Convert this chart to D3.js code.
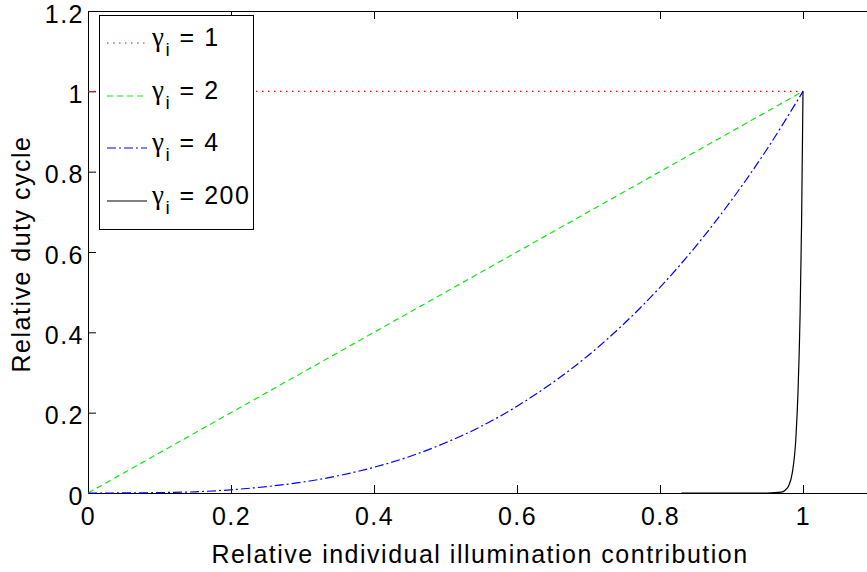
<!DOCTYPE html>
<html>
<head>
<meta charset="utf-8">
<script src="https://cdn.jsdelivr.net/npm/d3@7"></script>
<style>
  body { margin: 0; background: #fff; }
  svg { display: block; font-family: "Liberation Sans", Arial, sans-serif; }
  text { letter-spacing: 1.5px; }
</style>
</head>
<body>
<svg id="chart"></svg>
<script>
let width = 867
let height = 572

// axis ticks
let xTicks = [0, 0.2, 0.4, 0.6, 0.8, 1, 1.2]
let yTicks = [0, 0.2, 0.4, 0.6, 0.8, 1, 1.2]

// series
let gammaLabels = ['1', '2', '4', '200']

let gamma1X = [0, 1]
let gamma1Y = [1, 1]

let gamma2X = [0, 1]
let gamma2Y = [0, 1]

let gamma4X = [0, 0.05, 0.1, 0.15, 0.2, 0.25, 0.3, 0.35, 0.4, 0.45, 0.5, 0.55, 0.6, 0.65, 0.7, 0.75, 0.8, 0.85, 0.9, 0.95, 1]
let gamma4Y = [0, 0.0001, 0.001, 0.003, 0.008, 0.016, 0.027, 0.043, 0.064, 0.091, 0.125, 0.166, 0.216, 0.275, 0.343, 0.422, 0.512, 0.614, 0.729, 0.857, 1]

let gamma200X = [0.83, 0.9, 0.95, 0.97, 0.975, 0.98, 0.985, 0.99, 0.993, 0.996, 0.998, 1]
let gamma200Y = [0, 0, 0, 0.002, 0.007, 0.018, 0.05, 0.135, 0.25, 0.45, 0.67, 1]

let plotLeft = 88
let plotTop = 11
let plotBottom = 493

let svg = d3.select('#chart')
  .attr('width', width)
  .attr('height', height)

let xScale = d3.scaleLinear().domain([0, 1.2]).range([plotLeft, plotLeft + 715 * 1.2])
let yScale = d3.scaleLinear().domain([0, 1.2]).range([plotBottom, plotTop])

let zip = (xs, ys) => xs.map((x, i) => [x, ys[i]])

let series = [
  { pts: zip(gamma1X, gamma1Y), color: '#ff0000', dash: '1.5,4.5', curve: d3.curveLinear },
  { pts: zip(gamma2X, gamma2Y), color: '#11e611', dash: '6,4', curve: d3.curveLinear },
  { pts: zip(gamma4X, gamma4Y), color: '#0000ff', dash: '9,3,2,3', curve: d3.curveMonotoneX },
  { pts: zip(gamma200X, gamma200Y), color: '#000000', dash: null, curve: d3.curveMonotoneX }
]

// axes box (right side lies outside the picture)
let xAxis = d3.axisBottom(xScale).tickValues(xTicks).tickSize(-8).tickPadding(14)
  .tickFormat(d => d > 1 ? '' : d3.format('~g')(d))
svg.append('g')
  .attr('transform', 'translate(0,' + plotBottom + ')')
  .call(xAxis)
  .call(g => g.selectAll('text').attr('font-size', 25).attr('font-family', 'Liberation Sans').attr('fill', '#000'))

svg.append('g')
  .attr('transform', 'translate(0,' + plotTop + ')')
  .call(d3.axisTop(xScale).tickValues(xTicks).tickSize(-8).tickFormat(''))

let yAxis = d3.axisLeft(yScale).tickValues(yTicks).tickSize(-8).tickPadding(4)
  .tickFormat(d3.format('~g'))
svg.append('g')
  .attr('transform', 'translate(' + plotLeft + ',0)')
  .call(yAxis)
  .call(g => g.selectAll('text').attr('font-size', 25).attr('font-family', 'Liberation Sans').attr('fill', '#000').attr('dy', '0.45em'))

svg.selectAll('.domain').attr('stroke', '#000')
svg.selectAll('.tick line').attr('stroke', '#000')

// lines
let line = d3.line().x(d => xScale(d[0])).y(d => yScale(d[1]))

series.forEach(s => {
  svg.append('path')
    .attr('d', line.curve(s.curve)(s.pts))
    .attr('fill', 'none')
    .attr('stroke', s.color)
    .attr('stroke-width', 1.2)
    .attr('stroke-dasharray', s.dash)
})

// axis labels
svg.append('text')
  .attr('x', 480)
  .attr('y', 563)
  .attr('text-anchor', 'middle')
  .attr('font-size', 25)
  .text('Relative individual illumination contribution')

svg.append('text')
  .attr('transform', 'translate(30,254) rotate(-90)')
  .attr('text-anchor', 'middle')
  .attr('font-size', 25)
  .text('Relative duty cycle')

// legend
let legend = svg.append('g')
legend.append('rect')
  .attr('x', 99.5)
  .attr('y', 15.5)
  .attr('width', 154)
  .attr('height', 214)
  .attr('fill', '#fff')
  .attr('stroke', '#000')

let legendY = [43, 96, 148, 201]

series.forEach((s, i) => {
  legend.append('line')
    .attr('x1', 107).attr('x2', 147)
    .attr('y1', legendY[i]).attr('y2', legendY[i])
    .attr('stroke', s.color)
    .attr('stroke-width', 1.2)
    .attr('stroke-dasharray', s.dash)
  let t = legend.append('text')
    .attr('x', 152)
    .attr('y', legendY[i] + 3)
    .attr('font-size', 25)
  t.append('tspan').attr('font-family', 'Liberation Serif').attr('font-size', 27).text('γ')
  t.append('tspan').attr('font-size', 19).attr('dy', 10).text('i')
  t.append('tspan').attr('dy', -10).text(' = ' + gammaLabels[i])
})
</script>
</body>
</html>
